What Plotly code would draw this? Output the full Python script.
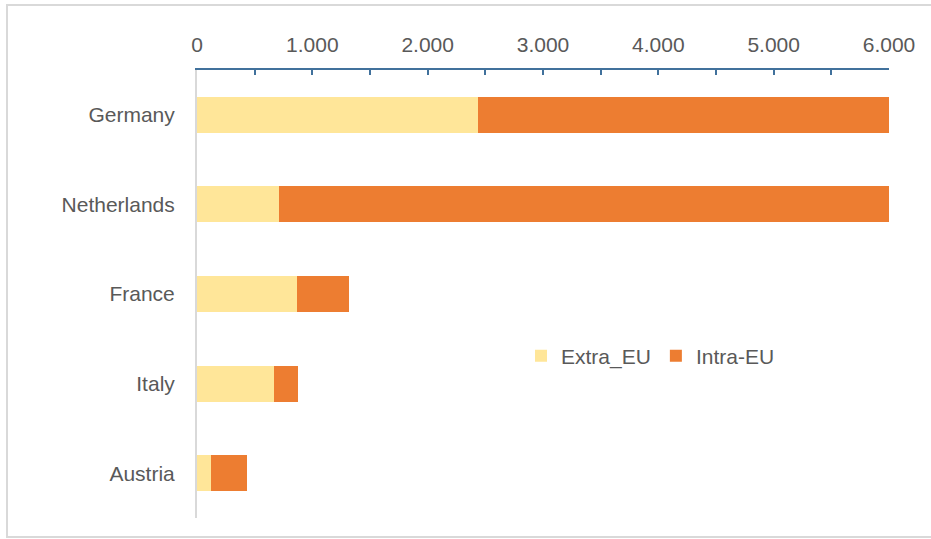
import plotly.graph_objects as go

countries = ["Germany", "Netherlands", "France", "Italy", "Austria"]
extra_eu = [2440, 710, 865, 670, 120]
intra_eu = [4200, 5800, 455, 205, 315]
x_ticks = [0, 1000, 2000, 3000, 4000, 5000, 6000]

L, R, T, B = 197, 42, 70, 21
W, H = 931, 539
pw, ph = W - L - R, H - T - B

def px_x(p):
    return (p - L) / pw

def px_y(p):
    return (H - B - p) / ph

fig = go.Figure()
fig.add_trace(go.Bar(y=countries, x=extra_eu, name="Extra_EU", orientation="h",
                     marker=dict(color="#FFE699", line=dict(width=0))))
fig.add_trace(go.Bar(y=countries, x=intra_eu, name="Intra-EU", orientation="h",
                     marker=dict(color="#ED7D31", line=dict(width=0))))

font = dict(family="Liberation Sans, Arial, sans-serif", size=21, color="#595959")

fig.update_layout(
    width=W, height=H,
    margin=dict(l=L, r=R, t=T, b=B),
    barmode="stack", bargap=0.6,
    separators=",.",
    paper_bgcolor="white", plot_bgcolor="white",
    font=font,
    showlegend=True,
    legend=dict(orientation="h", x=px_x(521), y=px_y(356), xanchor="left", yanchor="middle",
                font=font, bgcolor="rgba(0,0,0,0)", traceorder="normal", itemwidth=30),
    xaxis=dict(side="top", range=[0, 6000], tickvals=x_ticks, tickformat=",d",
               showgrid=False, zeroline=False, showline=True, linecolor="#41719C", linewidth=2,
               ticks="inside", ticklen=5, tickwidth=1.5, tickcolor="#41719C",
               minor=dict(dtick=500, ticks="inside", ticklen=5, tickwidth=1.5, tickcolor="#41719C"),
               tickfont=font, ticklabelstandoff=8),
    yaxis=dict(categoryorder="array", categoryarray=countries, range=[4.5, -0.5],
               showgrid=False, zeroline=False, showline=True, linecolor="#d9d9d9", linewidth=2,
               ticks="", tickfont=font, ticklabelstandoff=16),
    shapes=[dict(type="rect", xref="paper", yref="paper",
                 x0=px_x(7), x1=px_x(934), y0=px_y(537), y1=px_y(5),
                 line=dict(color="#d9d9d9", width=2), layer="below")],
)

fig.write_html("out.html", config={"displayModeBar": False},
               post_script="document.body.style.margin='0';document.body.style.overflow='hidden';")
